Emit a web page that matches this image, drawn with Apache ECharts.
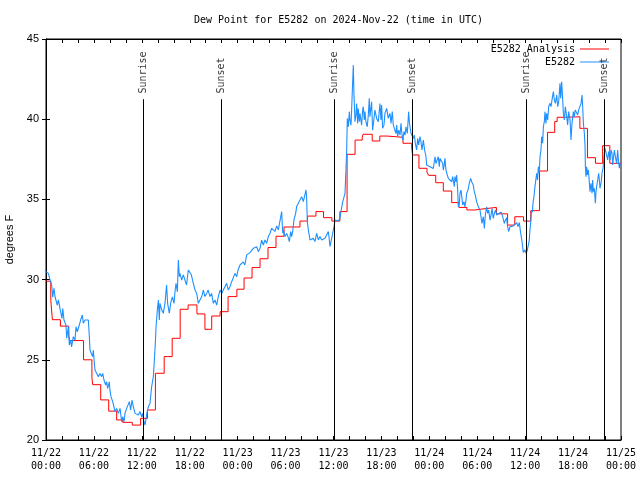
<!DOCTYPE html>
<html>
<head>
<meta charset="utf-8">
<script src="https://cdn.jsdelivr.net/npm/echarts@6/dist/echarts.min.js"></script>
<style>html,body{margin:0;padding:0;background:#fff}#c{width:640px;height:480px}</style>
</head>
<body>
<div id="c"></div>
<script>
// ---- data (hours since 11/22 00:00 UTC, degrees F) ----
const titleText = 'Dew Point for E5282 on 2024-Nov-22 (time in UTC)';
const xTickLabels = ['11/22\n00:00','11/22\n06:00','11/22\n12:00','11/22\n18:00','11/23\n00:00','11/23\n06:00','11/23\n12:00','11/23\n18:00','11/24\n00:00','11/24\n06:00','11/24\n12:00','11/24\n18:00','11/25\n00:00'];
const sunTimes = [12.18, 21.95, 36.06, 45.87, 60.1, 69.9];
const sunNames = ['Sunrise','Sunset','Sunrise','Sunset','Sunrise','Sunset'];

const analysisTimes = [0,0.6,0.8,1.8,2.85,2.95,4.7,5.75,5.85,6.85,7.85,8.85,9.6,10.8,11.85,12.7,13.7,14.8,15.8,16.8,17.8,18.9,19.9,20.75,21.8,22.8,23.9,24.8,25.8,26.8,27.8,28.8,29.8,31.8,32.75,33.8,34.75,35.8,36.8,37.7,38.7,39.6,39.7,40.85,41.8,42.7,44.7,45.8,45.9,46.7,47.7,47.9,48.8,49.75,50.8,51.7,52.7,53.7,54.6,56.4,57.8,58.7,59.8,60.7,61.8,62.8,63.7,64.0,65.0,66.85,67.8,68.8,69.7,70.6,72];
const analysisValues = [29.9,28.7,27.5,27.1,26.5,26.2,25.0,23.85,23.45,22.5,21.8,21.25,21.1,20.93,21.35,21.87,24.16,25.2,26.34,28.15,28.42,27.86,26.9,27.73,28.0,28.94,29.4,30.1,30.75,31.3,32.0,32.7,33.28,33.65,33.96,34.24,33.86,33.65,34.24,37.81,38.7,38.87,39.06,38.64,38.95,38.87,38.5,38.19,37.77,36.94,36.7,36.5,36.04,35.52,34.8,34.5,34.34,34.4,34.5,34.1,33.4,33.92,33.65,34.3,36.77,39.18,39.85,40.12,40.15,39.43,37.6,37.25,38.35,37.25,37.25];

const stationObs = [[0.0,30.5],[0.08,30.43],[0.29,30.39],[0.5,30.0],[0.71,29.66],[0.84,28.9],[0.92,29.2],[1.0,29.45],[1.13,28.93],[1.34,28.83],[1.42,28.4],[1.55,28.73],[1.75,28.2],[1.96,28.1],[2.0,27.58],[2.1,28.2],[2.25,27.48],[2.5,27.17],[2.59,26.34],[2.8,27.06],[2.92,25.92],[3.09,26.23],[3.2,25.8],[3.42,26.44],[3.63,26.23],[3.76,27.06],[3.92,26.75],[4.17,27.17],[4.34,27.48],[4.55,27.79],[4.68,27.27],[4.88,27.48],[5.09,27.37],[5.3,27.48],[5.43,26.44],[5.51,25.6],[5.72,25.5],[5.84,25.2],[5.93,25.6],[6.05,24.78],[6.14,24.36],[6.35,24.15],[6.43,24.26],[6.55,23.95],[6.76,24.15],[6.97,23.95],[7.1,24.15],[7.26,23.74],[7.47,23.43],[7.6,23.63],[7.72,23.22],[7.93,23.63],[8.0,23.12],[8.14,22.7],[8.35,22.39],[8.51,22.07],[8.64,21.77],[8.85,21.97],[9.06,21.66],[9.27,21.97],[9.48,21.14],[9.6,21.45],[9.77,21.14],[9.89,21.66],[10.1,21.97],[10.31,22.07],[10.44,22.39],[10.6,21.87],[10.77,22.49],[10.94,22.07],[11.15,21.66],[11.35,21.77],[11.56,21.56],[11.77,21.77],[11.98,21.45],[12.1,21.66],[12.27,21.14],[12.4,20.93],[12.6,21.56],[12.81,22.07],[13.02,22.28],[13.23,23.32],[13.44,23.95],[13.57,24.99],[13.69,26.03],[13.78,27.06],[13.94,28.1],[14.07,28.73],[14.19,27.48],[14.27,28.52],[14.5,28.1],[14.69,27.9],[14.9,28.52],[15.1,29.66],[15.23,28.52],[15.44,27.9],[15.61,28.52],[15.82,28.93],[16.03,28.52],[16.15,29.24],[16.28,29.77],[16.45,29.24],[16.57,31.22],[16.7,30.18],[16.78,30.39],[16.99,29.97],[17.2,30.3],[17.4,29.97],[17.6,29.66],[17.82,30.6],[18.0,30.7],[18.2,30.3],[18.45,29.77],[18.66,29.35],[18.87,29.14],[19.07,28.52],[19.3,28.52],[19.5,28.94],[19.7,29.35],[19.9,28.94],[20.12,29.14],[20.3,29.35],[20.53,28.94],[20.74,29.14],[20.95,28.52],[21.16,28.73],[21.37,28.41],[21.58,28.94],[21.79,29.35],[22.0,29.14],[22.2,29.35],[22.41,29.56],[22.62,29.77],[22.83,29.35],[23.04,29.56],[23.25,29.87],[23.46,29.98],[23.67,30.39],[23.88,30.18],[24.05,30.6],[24.29,30.91],[24.5,30.8],[24.7,31.1],[24.9,30.91],[25.13,31.54],[25.35,31.64],[25.54,31.68],[25.75,31.74],[25.96,31.95],[26.17,31.85],[26.38,32.05],[26.59,31.74],[26.8,31.95],[27.0,32.47],[27.21,32.16],[27.42,32.47],[27.63,32.26],[27.84,32.68],[28.05,32.88],[28.26,33.2],[28.47,33.3],[28.67,33.0],[28.88,33.35],[29.09,33.1],[29.3,33.0],[29.51,34.24],[29.64,32.9],[29.72,33.1],[29.93,32.68],[30.14,32.88],[30.35,32.6],[30.47,32.37],[30.64,33.0],[30.76,32.68],[30.89,33.0],[31.05,33.72],[31.26,34.13],[31.39,34.55],[31.6,34.76],[31.8,34.97],[32.01,35.17],[32.14,35.28],[32.22,34.86],[32.43,34.97],[32.56,35.59],[32.64,35.07],[32.72,33.62],[32.85,33.1],[33.06,32.47],[33.27,32.37],[33.47,32.58],[33.68,32.37],[33.89,32.89],[34.1,32.47],[34.31,32.68],[34.52,32.47],[34.7,32.37],[34.93,32.58],[35.14,32.68],[35.35,33.0],[35.48,32.47],[35.56,32.06],[35.77,32.06],[35.9,32.89],[36.06,33.3],[36.19,33.71],[36.4,33.6],[36.6,33.65],[36.81,33.82],[36.97,34.34],[37.15,34.85],[37.31,34.96],[37.44,35.37],[37.56,36.83],[37.65,38.08],[37.73,40.05],[37.86,39.53],[37.98,40.47],[38.06,39.95],[38.19,39.63],[38.27,40.57],[38.4,42.34],[38.48,43.37],[38.56,41.61],[38.69,39.84],[38.81,40.26],[38.9,40.98],[39.02,39.74],[39.1,40.67],[39.23,39.84],[39.31,40.36],[39.52,39.63],[39.65,40.57],[39.73,40.78],[39.86,39.95],[39.94,40.47],[40.06,39.84],[40.23,39.53],[40.36,40.26],[40.48,41.3],[40.56,40.15],[40.77,41.09],[40.9,39.32],[41.06,39.43],[41.19,40.57],[41.4,40.05],[41.61,39.84],[41.82,40.98],[41.94,39.95],[42.03,40.88],[42.15,39.43],[42.32,39.63],[42.44,40.36],[42.66,40.67],[42.86,40.05],[43.07,40.36],[43.2,39.74],[43.36,40.47],[43.49,39.63],[43.7,39.53],[43.82,39.11],[43.91,39.63],[44.03,38.91],[44.16,39.32],[44.33,39.01],[44.45,39.74],[44.54,39.22],[44.66,38.7],[44.83,39.22],[44.95,39.01],[45.08,39.53],[45.24,39.11],[45.41,40.47],[45.5,39.84],[45.58,39.53],[45.71,39.11],[45.83,39.11],[46.0,38.8],[46.12,39.01],[46.25,38.49],[46.41,38.08],[46.54,38.8],[46.66,38.39],[46.83,38.91],[46.95,38.6],[47.08,38.08],[47.25,38.7],[47.41,38.08],[47.58,37.66],[47.66,37.14],[47.87,37.24],[48.08,37.04],[48.29,37.14],[48.5,36.93],[48.71,37.66],[48.83,37.24],[49.0,37.14],[49.12,37.66],[49.25,37.04],[49.33,37.56],[49.54,37.66],[49.67,37.24],[49.75,36.83],[49.83,37.04],[49.96,37.56],[50.08,36.83],[50.25,36.52],[50.38,36.31],[50.58,36.31],[50.8,36.1],[50.92,36.42],[51.0,36.52],[51.13,35.79],[51.21,36.42],[51.34,36.1],[51.42,36.52],[51.55,35.58],[51.63,34.54],[51.76,34.75],[51.84,35.37],[51.96,35.58],[52.09,35.06],[52.17,34.65],[52.34,34.85],[52.46,34.54],[52.59,34.96],[52.67,35.37],[52.84,35.58],[53.0,36.0],[53.17,36.31],[53.3,36.1],[53.42,36.2],[53.5,35.89],[53.63,35.48],[53.76,35.27],[53.93,34.85],[54.14,34.54],[54.34,34.34],[54.47,33.92],[54.59,33.5],[54.76,33.92],[54.89,33.19],[55.01,34.02],[55.18,34.54],[55.3,34.13],[55.43,34.34],[55.6,33.71],[55.72,34.02],[55.85,34.44],[56.01,33.82],[56.14,34.13],[56.3,34.34],[56.43,34.02],[56.56,33.92],[56.72,34.13],[56.85,34.13],[57.0,34.2],[57.14,34.0],[57.3,34.1],[57.39,33.5],[57.52,33.7],[57.68,33.85],[57.8,33.3],[57.93,33.0],[58.1,33.3],[58.3,33.2],[58.52,33.35],[58.7,33.25],[58.94,33.55],[59.1,33.3],[59.27,33.55],[59.38,33.1],[59.5,32.7],[59.6,32.4],[59.77,31.7],[59.86,31.64],[59.98,31.85],[60.1,31.64],[60.25,31.8],[60.4,31.85],[60.5,32.4],[60.6,33.09],[60.7,33.61],[60.8,34.34],[60.9,34.2],[61.0,34.86],[61.1,35.17],[61.23,35.8],[61.33,36.2],[61.44,36.63],[61.55,36.2],[61.65,37.04],[61.76,36.63],[61.86,37.67],[61.98,38.08],[62.07,38.91],[62.19,38.5],[62.28,39.54],[62.4,39.85],[62.48,40.47],[62.6,39.74],[62.69,40.37],[62.82,39.95],[62.94,40.78],[63.11,40.99],[63.24,40.78],[63.36,41.2],[63.53,41.72],[63.65,41.2],[63.78,40.99],[63.95,41.51],[64.07,40.78],[64.2,41.1],[64.36,42.24],[64.45,41.3],[64.57,42.34],[64.7,41.2],[64.78,40.37],[64.9,39.95],[65.03,40.78],[65.2,40.16],[65.32,39.64],[65.45,40.47],[65.62,39.95],[65.74,38.7],[65.86,39.74],[66.03,40.47],[66.15,40.16],[66.28,40.58],[66.45,40.47],[66.57,40.26],[66.7,40.58],[66.87,40.47],[67.0,40.99],[67.12,41.51],[67.2,40.78],[67.29,39.74],[67.41,39.12],[67.5,38.29],[67.54,37.04],[67.62,36.42],[67.7,37.04],[67.79,36.53],[67.91,36.84],[68.0,36.31],[68.12,35.48],[68.24,36.0],[68.37,35.38],[68.45,36.21],[68.54,35.48],[68.66,35.69],[68.79,34.76],[68.87,35.48],[68.95,35.8],[69.08,36.21],[69.2,36.63],[69.29,36.21],[69.37,35.69],[69.5,36.0],[69.62,36.63],[69.75,36.94],[69.87,37.67],[70.0,38.18],[70.12,38.08],[70.2,38.08],[70.33,37.46],[70.45,37.98],[70.62,37.46],[70.75,38.08],[70.87,37.88],[70.96,37.15],[71.04,37.56],[71.17,38.08],[71.29,37.67],[71.46,37.25],[71.58,38.08],[71.7,37.3],[71.8,36.94],[71.9,37.25]];

const yMin = 20, yMax = 45, yStep = 5;
const xMin = 0, xMax = 72, xStep = 2;
const sunLineTop = 41.25, sunLabelAt = 41.6;

const mono = "'DejaVu Sans Mono', 'Liberation Mono', monospace";
const sans = "'Liberation Sans', Arial, sans-serif";

const chart = echarts.init(document.getElementById('c'), null, {renderer: 'canvas'});
const xLabelFmt = v => (v % 6 === 0) ? xTickLabels[v / 6] : '';
const baseX = {
  type: 'value', min: xMin, max: xMax, interval: xStep,
  axisLine: {show: true, lineStyle: {color: '#000', width: 1}},
  axisTick: {show: true, inside: true, length: 4, lineStyle: {color: '#000', width: 1}},
  splitLine: {show: false}
};
const baseY = {
  type: 'value', min: yMin, max: yMax, interval: yStep,
  axisLine: {show: true, lineStyle: {color: '#000', width: 1}},
  axisTick: {show: true, inside: true, length: 4, lineStyle: {color: '#000', width: 1}},
  splitLine: {show: false}
};
chart.setOption({
  animation: false,
  backgroundColor: '#fff',
  title: {text: titleText, left: 189, top: 10,
    textStyle: {fontFamily: mono, fontSize: 10, fontWeight: 'normal', color: '#000'}},
  grid: {left: 46, right: 19, top: 39, bottom: 40, show: true, borderColor: '#000', borderWidth: 1,
    containLabel: false, outerBoundsMode: 'none'},
  legend: [
    {data: ['E5282 Analysis'], right: 31, top: 43, orient: 'vertical', align: 'right', padding: 0,
     icon: 'rect', itemWidth: 29, itemHeight: 1,
     textStyle: {fontFamily: mono, fontSize: 10, color: '#000', lineHeight: 12}},
    {data: ['E5282'], right: 31, top: 56, orient: 'vertical', align: 'right', padding: 0,
     icon: 'rect', itemWidth: 29, itemHeight: 1,
     textStyle: {fontFamily: mono, fontSize: 10, color: '#000', lineHeight: 12}}
  ],
  xAxis: [
    Object.assign({}, baseX, {position: 'bottom',
      axisLabel: {show: true, formatter: xLabelFmt, fontFamily: mono, fontSize: 10, color: '#000', lineHeight: 13, margin: 7, hideOverlap: false}}),
    Object.assign({}, baseX, {position: 'top', axisLabel: {show: false}})
  ],
  yAxis: [
    Object.assign({}, baseY, {position: 'left', name: 'degrees F', nameLocation: 'middle', nameGap: 30, nameRotate: 90,
      nameTextStyle: {fontFamily: sans, fontSize: 11, color: '#000'},
      axisLabel: {show: true, fontFamily: sans, fontSize: 11, color: '#000', margin: 7}}),
    Object.assign({}, baseY, {position: 'right', axisLabel: {show: false}})
  ],
  series: [
    {name: 'E5282 Analysis', type: 'line', step: 'end', showSymbol: false, symbol: 'none',
     data: analysisTimes.map((t, i) => [t, analysisValues[i]]),
     lineStyle: {color: '#ff0000', width: 1}, itemStyle: {color: '#ff0000'}, z: 2},
    {name: 'E5282', type: 'line', showSymbol: false, symbol: 'none',
     data: stationObs,
     lineStyle: {color: '#1e90ff', width: 1.1}, itemStyle: {color: '#1e90ff'}, z: 3},
    {name: 'sun', type: 'scatter', symbolSize: 0, silent: true, z: 4,
     data: sunTimes.map((t, i) => ({value: [t, sunLabelAt], name: sunNames[i]})),
     label: {show: true, formatter: '{b}', position: [0, 0], align: 'left', verticalAlign: 'middle', rotate: 90,
       fontFamily: mono, fontSize: 10, color: '#000'},
     markLine: {silent: true, symbol: ['none', 'none'], label: {show: false},
       lineStyle: {color: '#000', width: 1, type: 'solid'},
       data: sunTimes.map(t => [{coord: [t, sunLineTop]}, {coord: [t, yMin]}])}}
  ]
});
</script>
</body>
</html>
